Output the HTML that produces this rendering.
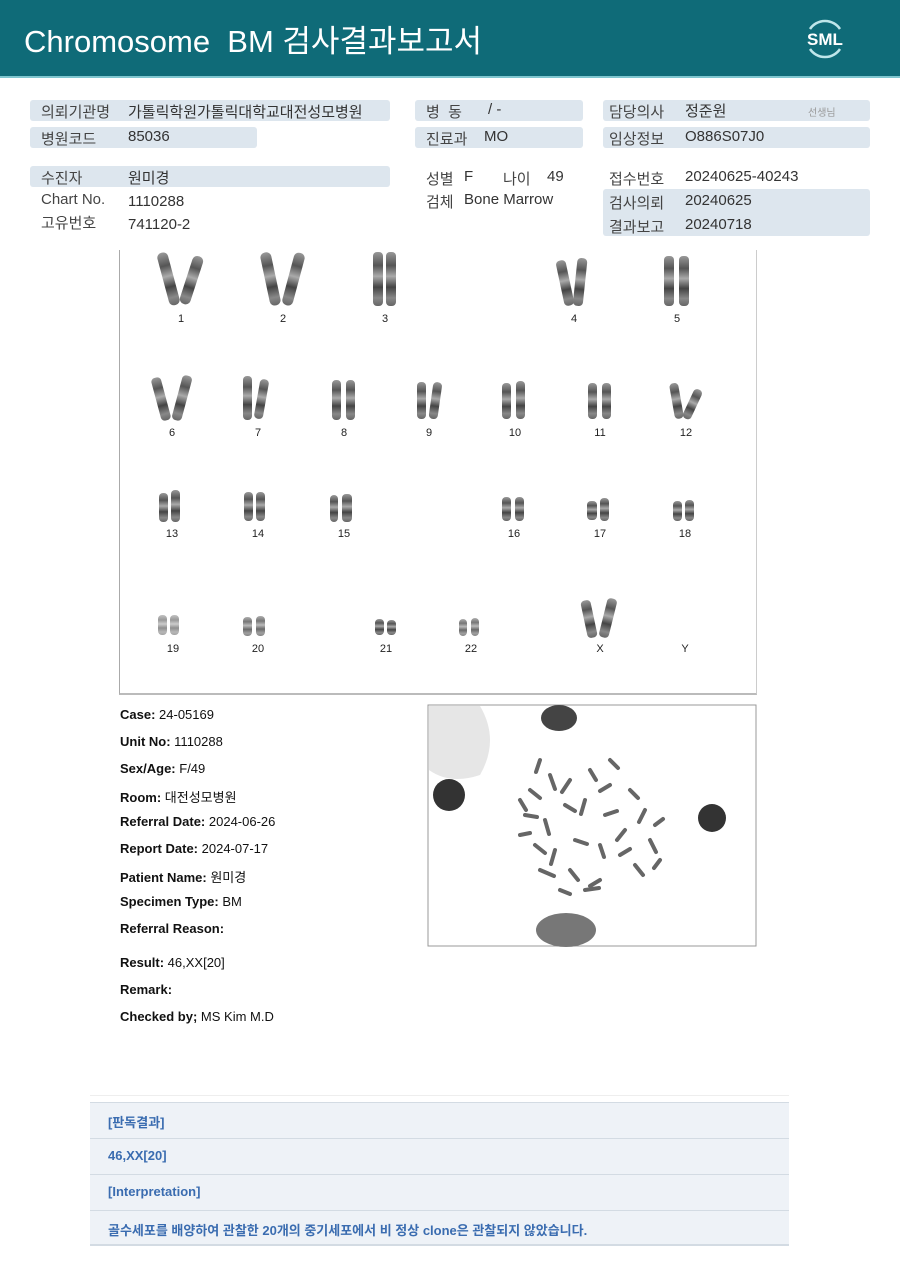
<!DOCTYPE html>
<html><head><meta charset="utf-8">
<style>
*{margin:0;padding:0;box-sizing:border-box}
body{width:900px;height:1271px;background:#fff;position:relative;font-family:"Liberation Sans","Noto Sans CJK KR",sans-serif;color:#222;overflow:hidden}
.hdr{position:absolute;left:0;top:0;width:900px;height:78px;background:#0f6b78;border-bottom:2px solid #7fc6cf}
.hdr .t{position:absolute;left:24px;top:16px;color:#fff;font-size:31px;letter-spacing:0px}
.logo{position:absolute;left:800px;top:14px;width:50px;height:50px}
.bar{position:absolute;height:21px;background:#dde6ee;border-radius:3px}
.tx{position:absolute;font-size:15px;color:#333;white-space:nowrap}
.lb{color:#444}
.kbox{position:absolute;left:119px;top:250px;width:638px;height:445px;border-left:1px solid #aaa;border-right:1px solid #ccc;border-bottom:2px solid #bbb}
.num{position:absolute;font-size:11px;color:#222;transform:translateX(-50%)}
.info{position:absolute;left:120px;font-size:13px;color:#111}
.info b{font-weight:bold}
.tbl{position:absolute;left:90px;top:1095px;width:699px}
.tbl .r{height:36px;background:#eef2f7;border-top:1px solid #d3dbe3;color:#3a6cb0;font-weight:bold;font-size:13px;padding:9px 0 0 18px}
</style></head><body>
<div class="hdr"><div class="t">Chromosome&nbsp; BM 검사결과보고서</div>
<svg class="logo" viewBox="0 0 50 50"><path d="M10 15 A18 18 0 0 1 40 15" stroke="#bfe6ea" stroke-width="2.5" fill="none"/><path d="M10 35 A18 18 0 0 0 40 35" stroke="#bfe6ea" stroke-width="2.5" fill="none"/><text x="25" y="31" fill="#fff" font-size="17" font-weight="bold" text-anchor="middle" font-family="Liberation Sans">SML</text></svg>
</div>

<div class="bar" style="left:30px;top:100px;width:360px"></div>
<div class="bar" style="left:30px;top:127px;width:227px"></div>
<div class="bar" style="left:30px;top:166px;width:360px"></div>
<div class="bar" style="left:415px;top:100px;width:168px"></div>
<div class="bar" style="left:415px;top:127px;width:168px"></div>
<div class="bar" style="left:603px;top:100px;width:267px"></div>
<div class="bar" style="left:603px;top:127px;width:267px"></div>
<div class="bar" style="left:603px;top:189px;width:267px;height:47px"></div>

<div class="tx lb" style="left:41px;top:101px">의뢰기관명</div><div class="tx" style="left:128px;top:101px">가톨릭학원가톨릭대학교대전성모병원</div>
<div class="tx lb" style="left:41px;top:128px">병원코드</div><div class="tx" style="left:128px;top:128px">85036</div>
<div class="tx lb" style="left:41px;top:167px">수진자</div><div class="tx" style="left:128px;top:167px">원미경</div>
<div class="tx lb" style="left:41px;top:191px">Chart No.</div><div class="tx" style="left:128px;top:193px">1110288</div>
<div class="tx lb" style="left:41px;top:212px">고유번호</div><div class="tx" style="left:128px;top:216px">741120-2</div>

<div class="tx lb" style="left:426px;top:101px">병&nbsp;&nbsp;동</div><div class="tx" style="left:488px;top:101px">/ -</div>
<div class="tx lb" style="left:426px;top:128px">진료과</div><div class="tx" style="left:484px;top:128px">MO</div>
<div class="tx lb" style="left:426px;top:168px">성별</div><div class="tx" style="left:464px;top:168px">F</div>
<div class="tx lb" style="left:503px;top:168px">나이</div><div class="tx" style="left:547px;top:168px">49</div>
<div class="tx lb" style="left:426px;top:191px">검체</div><div class="tx" style="left:464px;top:191px">Bone Marrow</div>

<div class="tx lb" style="left:609px;top:101px">담당의사</div><div class="tx" style="left:685px;top:100px">정준원</div><div class="tx" style="left:808px;top:104px;font-size:10px;color:#999">선생님</div>
<div class="tx lb" style="left:609px;top:128px">임상정보</div><div class="tx" style="left:685px;top:128px">O886S07J0</div>
<div class="tx lb" style="left:609px;top:168px">접수번호</div><div class="tx" style="left:685px;top:168px">20240625-40243</div>
<div class="tx lb" style="left:609px;top:192px">검사의뢰</div><div class="tx" style="left:685px;top:192px">20240625</div>
<div class="tx lb" style="left:609px;top:216px">결과보고</div><div class="tx" style="left:685px;top:216px">20240718</div>

<div class="kbox"></div>
<svg style="position:absolute;left:0;top:0" width="900" height="1271">
<defs><linearGradient id="g" x1="0" y1="0" x2="0" y2="1">
<stop offset="0" stop-color="#999"/><stop offset=".25" stop-color="#555"/><stop offset=".45" stop-color="#aaa"/><stop offset=".65" stop-color="#444"/><stop offset=".85" stop-color="#888"/><stop offset="1" stop-color="#666"/></linearGradient></defs>
<g fill="url(#g)">
<rect x="163" y="252" width="11" height="54" rx="5" transform="rotate(-15 168 279)"/><rect x="186" y="255" width="11" height="50" rx="5" transform="rotate(18 191 280)"/>
<rect x="265" y="252" width="11" height="54" rx="5" transform="rotate(-12 270 279)"/><rect x="288" y="252" width="11" height="54" rx="5" transform="rotate(15 293 279)"/>
<rect x="373" y="252" width="10" height="54" rx="4"/><rect x="386" y="252" width="10" height="54" rx="4"/>
<rect x="560" y="260" width="10" height="46" rx="4" transform="rotate(-12 565 283)"/><rect x="575" y="258" width="10" height="48" rx="4" transform="rotate(6 580 283)"/>
<rect x="664" y="256" width="10" height="50" rx="4"/><rect x="679" y="256" width="10" height="50" rx="4"/>
<rect x="156" y="377" width="10" height="44" rx="4" transform="rotate(-15 161 399)"/><rect x="177" y="375" width="10" height="46" rx="4" transform="rotate(15 182 398)"/>
<rect x="243" y="376" width="9" height="44" rx="4"/><rect x="257" y="379" width="9" height="40" rx="4" transform="rotate(10 261 399)"/>
<rect x="332" y="380" width="9" height="40" rx="4"/><rect x="346" y="380" width="9" height="40" rx="4"/>
<rect x="417" y="382" width="9" height="37" rx="4"/><rect x="431" y="382" width="9" height="37" rx="4" transform="rotate(8 435 400)"/>
<rect x="502" y="383" width="9" height="36" rx="4"/><rect x="516" y="381" width="9" height="38" rx="4"/>
<rect x="588" y="383" width="9" height="36" rx="4"/><rect x="602" y="383" width="9" height="36" rx="4"/>
<rect x="672" y="383" width="9" height="36" rx="4" transform="rotate(-10 676 401)"/><rect x="688" y="388" width="9" height="32" rx="4" transform="rotate(25 692 404)"/>
<rect x="159" y="493" width="9" height="29" rx="4"/><rect x="171" y="490" width="9" height="32" rx="4"/>
<rect x="244" y="492" width="9" height="29" rx="4"/><rect x="256" y="492" width="9" height="29" rx="4"/>
<rect x="330" y="495" width="8" height="27" rx="4"/><rect x="342" y="494" width="10" height="28" rx="4"/>
<rect x="502" y="497" width="9" height="24" rx="4"/><rect x="515" y="497" width="9" height="24" rx="4"/>
<rect x="587" y="501" width="10" height="19" rx="4"/><rect x="600" y="498" width="9" height="23" rx="4"/>
<rect x="673" y="501" width="9" height="20" rx="4"/><rect x="685" y="500" width="9" height="21" rx="4"/>
<rect x="158" y="615" width="9" height="20" rx="4" opacity=".6"/><rect x="170" y="615" width="9" height="20" rx="4" opacity=".6"/>
<rect x="243" y="617" width="9" height="19" rx="4" opacity=".8"/><rect x="256" y="616" width="9" height="20" rx="4" opacity=".8"/>
<rect x="375" y="619" width="9" height="16" rx="4"/><rect x="387" y="620" width="9" height="15" rx="4"/>
<rect x="459" y="619" width="8" height="17" rx="4" opacity=".8"/><rect x="471" y="618" width="8" height="18" rx="4" opacity=".8"/>
<rect x="584" y="600" width="10" height="38" rx="4" transform="rotate(-12 589 619)"/><rect x="603" y="598" width="10" height="40" rx="4" transform="rotate(14 608 618)"/>
</g>
<rect x="428" y="705" width="328" height="241" fill="#fff" stroke="#999"/>
<path d="M429 706 L480 706 Q500 740 480 775 Q450 785 429 770 Z" fill="#e6e6e6"/>
<circle cx="449" cy="795" r="16" fill="#333"/>
<circle cx="712" cy="818" r="14" fill="#333"/>
<ellipse cx="559" cy="718" rx="18" ry="13" fill="#444"/>
<ellipse cx="566" cy="930" rx="30" ry="17" fill="#777"/>
<g stroke="#666" stroke-width="4" stroke-linecap="round">
<path d="M530 790 l10 8 M550 775 l5 14 M570 780 l-8 12 M590 770 l6 10 M610 785 l-10 6 M630 790 l8 8 M645 810 l-6 12 M525 815 l12 2 M545 820 l4 14 M565 805 l10 6 M585 800 l-4 14 M605 815 l12 -4 M625 830 l-8 10 M650 840 l6 12 M535 845 l10 8 M555 850 l-4 14 M575 840 l12 4 M600 845 l4 12 M620 855 l10 -6 M540 870 l14 6 M570 870 l8 10 M600 880 l-10 6 M635 865 l8 10 M560 890 l10 4 M585 890 l14 -2 M520 800 l6 10 M655 825 l8 -6 M610 760 l8 8 M540 760 l-4 12 M520 835 l10 -2 M660 860 l-6 8"/>
</g>
</svg>

<div class="num" style="left:181px;top:313px">1</div><div class="num" style="left:283px;top:313px">2</div><div class="num" style="left:385px;top:313px">3</div><div class="num" style="left:574px;top:313px">4</div><div class="num" style="left:677px;top:313px">5</div>
<div class="num" style="left:172px;top:427px">6</div><div class="num" style="left:258px;top:427px">7</div><div class="num" style="left:344px;top:427px">8</div><div class="num" style="left:429px;top:427px">9</div><div class="num" style="left:515px;top:427px">10</div><div class="num" style="left:600px;top:427px">11</div><div class="num" style="left:686px;top:427px">12</div>
<div class="num" style="left:172px;top:528px">13</div><div class="num" style="left:258px;top:528px">14</div><div class="num" style="left:344px;top:528px">15</div><div class="num" style="left:514px;top:528px">16</div><div class="num" style="left:600px;top:528px">17</div><div class="num" style="left:685px;top:528px">18</div>
<div class="num" style="left:173px;top:643px">19</div><div class="num" style="left:258px;top:643px">20</div><div class="num" style="left:386px;top:643px">21</div><div class="num" style="left:471px;top:643px">22</div><div class="num" style="left:600px;top:643px">X</div><div class="num" style="left:685px;top:643px">Y</div>

<div class="info" style="top:707px"><b>Case:</b> 24-05169</div>
<div class="info" style="top:734px"><b>Unit No:</b> 1110288</div>
<div class="info" style="top:761px"><b>Sex/Age:</b> F/49</div>
<div class="info" style="top:787px"><b>Room:</b> 대전성모병원</div>
<div class="info" style="top:814px"><b>Referral Date:</b> 2024-06-26</div>
<div class="info" style="top:841px"><b>Report Date:</b> 2024-07-17</div>
<div class="info" style="top:867px"><b>Patient Name:</b> 원미경</div>
<div class="info" style="top:894px"><b>Specimen Type:</b> BM</div>
<div class="info" style="top:921px"><b>Referral Reason:</b></div>
<div class="info" style="top:955px"><b>Result:</b> 46,XX[20]</div>
<div class="info" style="top:982px"><b>Remark:</b></div>
<div class="info" style="top:1009px"><b>Checked by;</b> MS Kim M.D</div>

<div style="position:absolute;left:90px;top:1095px;width:699px;border-top:1px solid #eee"></div>
<div class="tbl" style="top:1102px">
<div class="r">[판독결과]</div>
<div class="r">46,XX[20]</div>
<div class="r">[Interpretation]</div>
<div class="r" style="border-bottom:2px solid #d3dbe3">골수세포를 배양하여 관찰한 20개의 중기세포에서 비 정상 clone은 관찰되지 않았습니다.</div>
</div>
</body></html>
